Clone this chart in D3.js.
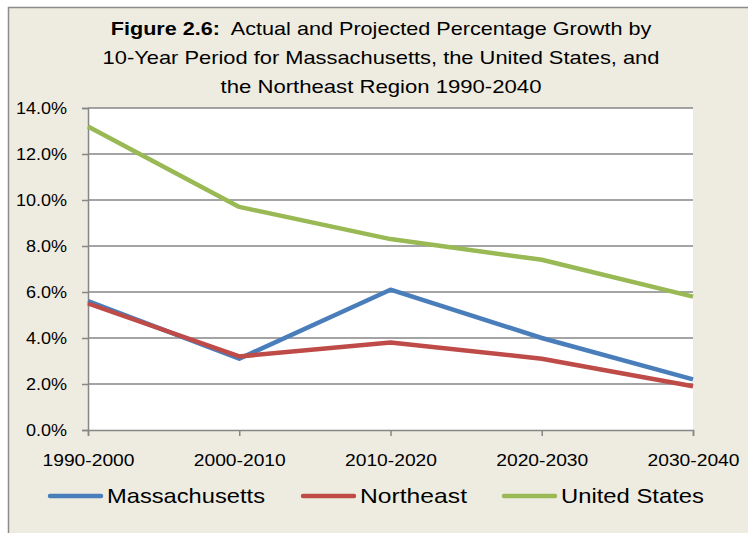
<!DOCTYPE html>
<html>
<head>
<meta charset="utf-8">
<script src="https://cdn.jsdelivr.net/npm/d3@7"></script>
<style>
  body { margin: 0; background: #fff; }
  svg { display: block; font-family: "Liberation Sans", Arial, sans-serif; }
</style>
</head>
<body>
<div id="chart"></div>
<script>
// chart data
var periods = ["1990-2000", "2000-2010", "2010-2020", "2020-2030", "2030-2040"];
var massachusetts = [5.6, 3.1, 6.1, 4.0, 2.2];
var northeast = [5.5, 3.2, 3.8, 3.1, 1.9];
var unitedStates = [13.2, 9.7, 8.3, 7.4, 5.8];
var yTicks = [0, 2, 4, 6, 8, 10, 12, 14];
var seriesNames = ["Massachusetts", "Northeast", "United States"];
var colors = ["#4A7EBB", "#BE4B48", "#98B954"];

var W = 748, H = 533;
var margin = {top: 108, right: 55, bottom: 103, left: 88},
    width = W - margin.left - margin.right,
    height = H - margin.top - margin.bottom;

var svg = d3.select("#chart").append("svg")
    .attr("width", W)
    .attr("height", H);

// squeeze/stretch a text horizontally so it matches the width of the original (Calibri) text
function fitWidth(sel, target) {
  var w = sel.node().getComputedTextLength();
  sel.attr("textLength", target).attr("lengthAdjust", "spacingAndGlyphs");
  return w;
}

// beige chart frame
svg.append("rect")
  .attr("x", 8.5).attr("y", 7.5)
  .attr("width", W + 10).attr("height", H + 10)
  .attr("fill", "#EEECE1")
  .attr("stroke", "#8C8C8C")
  .attr("stroke-width", 1.5);

// title, 3 lines, each scaled to the original width
var titleLines = [
  {y: 35, w: 541},
  {y: 64, w: 557},
  {y: 93, w: 321}
];
titleLines.forEach(function(l, i) {
  var t = svg.append("text")
    .attr("text-anchor", "middle")
    .attr("font-size", 17.5)
    .attr("fill", "#000");
  if (i == 0) {
    t.append("tspan").attr("font-weight", "bold").text("Figure 2.6:");
    t.append("tspan").text("\u00a0 Actual and Projected Percentage Growth by");
  } else if (i == 1) {
    t.text("10-Year Period for Massachusetts, the United States, and");
  } else {
    t.text("the Northeast Region 1990-2040");
  }
  var w = t.node().getComputedTextLength();
  t.attr("transform", "translate(381," + l.y + ") scale(" + (l.w / w) + ",1)");
});

var x = d3.scalePoint().domain(periods).range([0, width]);
var y = d3.scaleLinear().domain([0, 14]).range([height, 0]);

var g = svg.append("g")
  .attr("transform", "translate(" + margin.left + "," + margin.top + ")");

// plot area
g.append("rect")
  .attr("width", width).attr("height", height)
  .attr("fill", "#fff");

// gridlines
g.append("g")
  .selectAll("line")
  .data(yTicks.filter(function(d) { return d > 0; }))
  .join("line")
    .attr("x1", 0).attr("x2", width)
    .attr("y1", function(d) { return y(d); })
    .attr("y2", function(d) { return y(d); })
    .attr("stroke", "#868686")
    .attr("stroke-width", 1.5);

// y axis
var yAxis = d3.axisLeft(y)
  .tickValues(yTicks)
  .tickSize(6)
  .tickPadding(15)
  .tickFormat(function(d) { return d.toFixed(1) + "%"; });

var yG = g.append("g").call(yAxis);
yG.select(".domain").attr("stroke", "#868686").attr("stroke-width", 1.5);
yG.selectAll(".tick line").attr("stroke", "#868686").attr("stroke-width", 1.5);
yG.selectAll("text")
  .attr("font-size", 17)
  .attr("font-family", "Liberation Sans, Arial, sans-serif")
  .attr("fill", "#000")
  .each(function() {
    var s = d3.select(this);
    fitWidth(s, this.getComputedTextLength() * 1.06);
  });

// x axis
var xAxis = d3.axisBottom(x)
  .tickSize(6)
  .tickPadding(18)
  .tickSizeOuter(6);

var xG = g.append("g")
  .attr("transform", "translate(0," + height + ")")
  .call(xAxis);
xG.select(".domain").attr("stroke", "#868686").attr("stroke-width", 1.5);
xG.selectAll(".tick line").attr("stroke", "#868686").attr("stroke-width", 1.5);
xG.selectAll("text")
  .attr("font-size", 17)
  .attr("font-family", "Liberation Sans, Arial, sans-serif")
  .attr("fill", "#000")
  .each(function() { fitWidth(d3.select(this), 92); });

// lines
var allSeries = [massachusetts, northeast, unitedStates];
var line = d3.line()
  .x(function(d, i) { return x(periods[i]); })
  .y(function(d) { return y(d); });

g.append("g")
  .selectAll("path")
  .data(allSeries)
  .join("path")
    .attr("d", line)
    .attr("fill", "none")
    .attr("stroke", function(d, i) { return colors[i]; })
    .attr("stroke-width", 4.5)
    .attr("stroke-linejoin", "round");

// legend
var legendX = [48, 301, 502];
var legendW = [158, 107, 143];
var legend = svg.append("g").selectAll("g")
  .data(seriesNames)
  .join("g")
    .attr("transform", function(d, i) { return "translate(" + legendX[i] + ",496)"; });

legend.append("line")
  .attr("x1", 2).attr("x2", 53)
  .attr("stroke", function(d, i) { return colors[i]; })
  .attr("stroke-width", 4.5)
  .attr("stroke-linecap", "round");

legend.append("text")
  .attr("x", 59)
  .attr("dy", "0.35em")
  .attr("font-size", 21)
  .attr("fill", "#000")
  .text(function(d) { return d; })
  .each(function(d, i) { fitWidth(d3.select(this), legendW[i]); });
</script>
</body>
</html>
